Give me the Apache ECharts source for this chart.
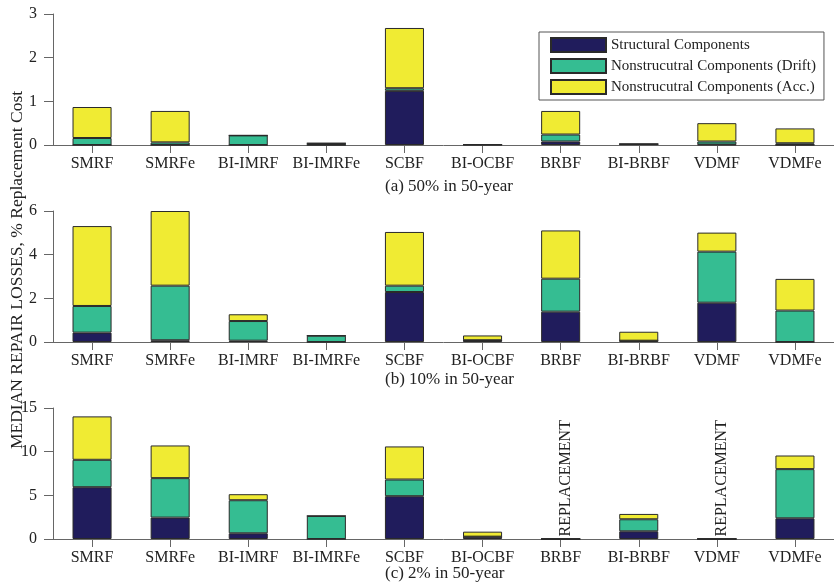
<!DOCTYPE html>
<html>
<head>
<meta charset="utf-8">
<script src="https://cdn.jsdelivr.net/npm/echarts@6/dist/echarts.min.js"></script>
<style>
  html, body { margin: 0; padding: 0; background: #fff; }
  #chart { width: 834px; height: 584px; }
</style>
</head>
<body>
<div id="chart"></div>
<script>
// Building systems compared in every hazard level
const categories = ['SMRF', 'SMRFe', 'BI-IMRF', 'BI-IMRFe', 'SCBF', 'BI-OCBF', 'BRBF', 'BI-BRBF', 'VDMF', 'VDMFe'];

// (a) 50% in 50-year
const aStructural = [0, 0, 0, 0, 1.24, 0.01, 0.08, 0.02, 0.01, 0];
const aDrift      = [0.16, 0.06, 0.22, 0.04, 0.06, 0, 0.16, 0, 0.07, 0.04];
const aAcc        = [0.71, 0.72, 0, 0, 1.38, 0, 0.54, 0, 0.42, 0.34];

// (b) 10% in 50-year
const bStructural = [0.43, 0.08, 0.06, 0, 2.29, 0.08, 1.39, 0.06, 1.80, 0];
const bDrift      = [1.22, 2.50, 0.90, 0.29, 0.29, 0, 1.51, 0, 2.34, 1.44];
const bAcc        = [3.66, 3.42, 0.31, 0, 2.46, 0.22, 2.21, 0.41, 0.87, 1.45];

// (c) 2% in 50-year
const cStructural = [5.93, 2.45, 0.65, 0, 4.90, 0.27, 0, 0.88, 0, 2.37];
const cDrift      = [3.14, 4.52, 3.79, 2.64, 1.91, 0, 0, 1.38, 0, 5.63];
const cAcc        = [4.97, 3.74, 0.69, 0, 3.79, 0.57, 0, 0.61, 0, 1.56];

// Systems that reach full replacement at the 2% level
const replacementCases = ['BRBF', 'VDMF'];
const replacementText = 'REPLACEMENT';

const seriesNames = ['Structural Components', 'Nonstrucutral Components (Drift)', 'Nonstrucutral Components (Acc.)'];
const panelTitles = ['(a) 50% in 50-year', '(b) 10% in 50-year', '(c) 2% in 50-year'];
const yMax = [3, 6, 15];
const yStep = [1, 2, 5];
const yAxisTitle = 'MEDIAN REPAIR LOSSES, % Replacement Cost';

const panels = [
  [aStructural, aDrift, aAcc],
  [bStructural, bDrift, bAcc],
  [cStructural, cDrift, cAcc]
];

const colors = ['#201c5c', '#35bd92', '#f0eb33'];
const FONT = 'Liberation Serif';
const TXT = '#222';
const AXIS = '#666';

const gridTops = [14, 211, 408];
const gridH = 131;

const grids = gridTops.map(t => ({ left: 53, top: t, width: 788, height: gridH }));

const xAxes = gridTops.map((t, i) => ({
  type: 'category',
  gridIndex: i,
  data: categories,
  axisLine: { lineStyle: { color: AXIS, width: 1 } },
  axisTick: { show: true, alignWithLabel: true, length: 8, lineStyle: { color: AXIS } },
  axisLabel: { color: TXT, fontFamily: FONT, fontSize: 16, margin: 11, interval: 0 }
}));

const yAxes = gridTops.map((t, i) => ({
  type: 'value',
  gridIndex: i,
  min: 0,
  max: yMax[i],
  interval: yStep[i],
  splitLine: { show: false },
  axisLine: { show: true, lineStyle: { color: AXIS, width: 1 } },
  axisTick: { show: true, length: 9, lineStyle: { color: AXIS } },
  axisLabel: { color: TXT, fontFamily: FONT, fontSize: 16, margin: 16 }
}));

const series = [];
panels.forEach((vals, p) => {
  vals.forEach((arr, k) => {
    const data = arr.map((v, j) => {
      if (p === 2 && k === 0 && replacementCases.includes(categories[j])) {
        return {
          value: v,
          label: {
            show: true,
            formatter: replacementText,
            position: 'top',
            distance: 2,
            offset: [0, 5],
            rotate: 90,
            align: 'left',
            verticalAlign: 'middle',
            fontFamily: FONT,
            fontSize: 16,
            color: TXT
          }
        };
      }
      return v;
    });
    series.push({
      name: seriesNames[k],
      type: 'bar',
      xAxisIndex: p,
      yAxisIndex: p,
      stack: 'panel' + p,
      barWidth: '50%',
      itemStyle: { color: colors[k], borderColor: '#2a2a2a', borderWidth: 1 },
      data: data
    });
  });
});

const subtitleY = [187, 380, 574];
const graphics = panelTitles.map((txt, i) => ({
  type: 'text',
  left: 449 - 64,
  top: subtitleY[i] - 9,
  style: { text: txt, font: '17px "' + FONT + '"', fill: TXT }
}));
graphics.push({
  type: 'text',
  x: 17,
  y: 270,
  rotation: Math.PI / 2,
  style: {
    text: yAxisTitle,
    font: '17.5px "' + FONT + '"',
    fill: TXT,
    align: 'center',
    verticalAlign: 'middle'
  }
});

const chart = echarts.init(document.getElementById('chart'));
chart.setOption({
  animation: false,
  backgroundColor: '#fff',
  grid: grids,
  xAxis: xAxes,
  yAxis: yAxes,
  legend: {
    data: seriesNames,
    orient: 'vertical',
    left: 539,
    top: 32,
    itemWidth: 55,
    itemHeight: 14,
    itemGap: 5,
    padding: [5, 8, 5, 11],
    borderColor: '#555',
    borderWidth: 1,
    backgroundColor: '#fff',
    icon: 'rect',
    textStyle: { fontFamily: FONT, fontSize: 15, color: TXT }
  },
  graphic: graphics,
  series: series
});
</script>
</body>
</html>
